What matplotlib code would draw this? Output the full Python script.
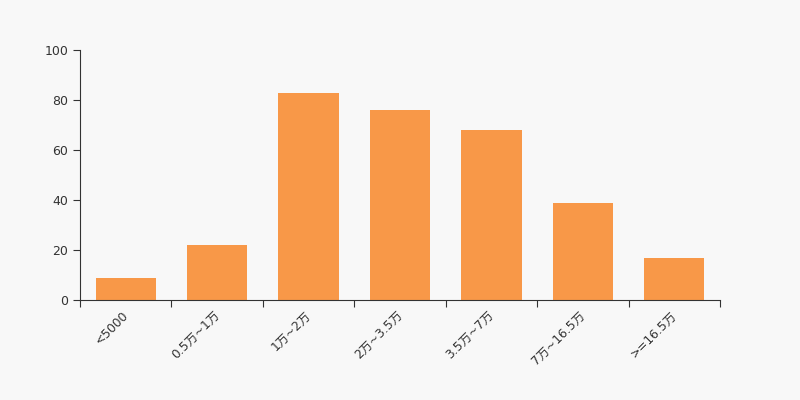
import matplotlib
matplotlib.use("Agg")
import matplotlib.pyplot as plt
import matplotlib.transforms as mtransforms
import numpy as np

plt.rcParams['font.family'] = ['DejaVu Sans', 'Noto Sans CJK SC']

categories = ['<5000', '0.5万~1万', '1万~2万', '2万~3.5万', '3.5万~7万', '7万~16.5万', '>=16.5万']
values = [9, 22, 83, 76, 68, 39, 17]

bg = '#f8f8f8'
fig = plt.figure(figsize=(8, 4), dpi=100, facecolor=bg)
ax = fig.add_axes([0.1, 0.25, 0.8, 0.625], facecolor=bg)

x = np.arange(len(categories))
ax.bar(x, values, width=0.66, color='#f89848', zorder=2)

ax.set_xlim(-0.5, len(categories) - 0.5)
ax.set_ylim(0, 100)
ax.set_yticks(range(0, 101, 20))

# ticks at category boundaries, labels at centres
ax.set_xticks(np.arange(-0.5, len(categories), 1.0))
ax.set_xticklabels([])
ax.set_xticks(x, minor=True)
ax.set_xticklabels(categories, minor=True, rotation=45, ha='right', va='top',
                   rotation_mode='anchor', fontsize=8.8, color='#333333')
ax.tick_params(axis='x', which='minor', length=0, pad=6)
ax.tick_params(axis='x', which='major', length=5, color='#333333')
ax.tick_params(axis='y', length=5, labelsize=9, labelcolor='#333333', color='#333333')

shift = mtransforms.ScaledTranslation(-4 / 100, 0, fig.dpi_scale_trans)
for lbl in ax.get_xticklabels(minor=True):
    lbl.set_transform(lbl.get_transform() + shift)

for s in ['top', 'right']:
    ax.spines[s].set_visible(False)
for s in ['left', 'bottom']:
    ax.spines[s].set_color('#333333')

fig.savefig('out.png', facecolor=bg)
